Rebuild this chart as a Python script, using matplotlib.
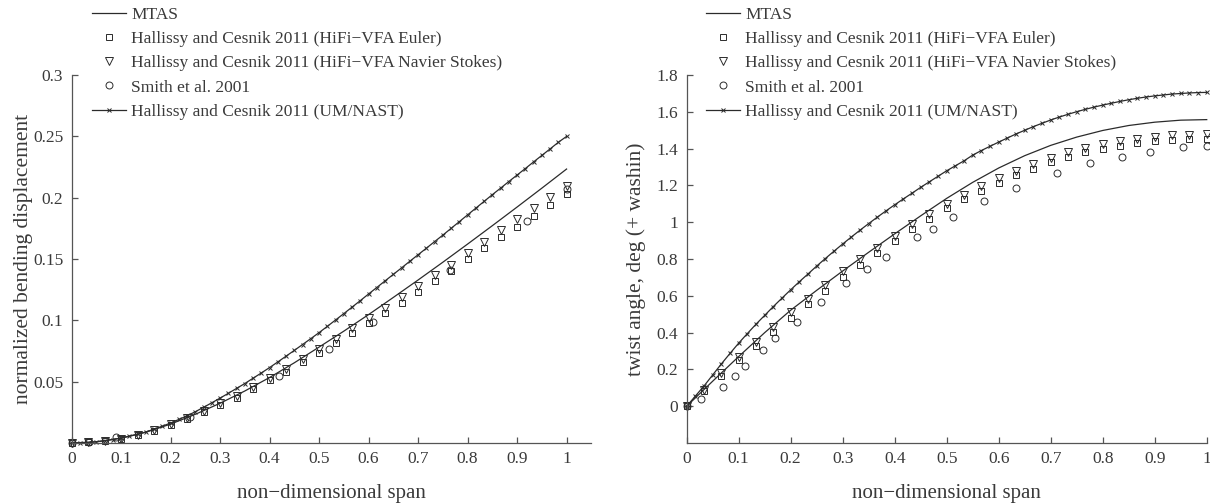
import matplotlib
matplotlib.use("Agg")
import matplotlib.pyplot as plt
from matplotlib.ticker import FuncFormatter

plt.rcParams["font.family"] = ["Liberation Serif", "DejaVu Serif"]
plt.rcParams["axes.unicode_minus"] = False

INK = "#2b2b2b"
TXT = "#3a3a3a"

# ---- bending (left) ----
mtas_x = [0.0, 0.05, 0.1, 0.15, 0.2, 0.25, 0.3, 0.35, 0.4, 0.45, 0.5,
          0.55, 0.6, 0.65, 0.7, 0.75, 0.8, 0.85, 0.9, 0.95, 1.0]
bend_mtas = [0.0, 0.001, 0.004, 0.0088, 0.0154, 0.0234, 0.0324, 0.0424,
             0.0534, 0.0654, 0.0782, 0.0912, 0.1047, 0.1187, 0.1329,
             0.1474, 0.1622, 0.1772, 0.1924, 0.2078, 0.2234]

# HiFi-VFA stations at every 1/30 of span
hifi_x = [k / 30 for k in range(31)]
bend_euler = [0.0, 0.0005, 0.0015, 0.003, 0.0062, 0.0102, 0.015, 0.0198,
              0.025, 0.031, 0.0366, 0.0439, 0.0512, 0.058, 0.066, 0.0737,
              0.0818, 0.09, 0.0982, 0.1057, 0.1144, 0.1233, 0.132, 0.1404,
              0.1497, 0.1587, 0.1676, 0.1763, 0.1853, 0.194, 0.203]
bend_ns = [0.0, 0.0006, 0.0017, 0.0033, 0.0067, 0.011, 0.0158, 0.0207,
           0.0262, 0.0323, 0.0381, 0.0455, 0.053, 0.0602, 0.0685, 0.0765,
           0.085, 0.0935, 0.1021, 0.1098, 0.1188, 0.128, 0.137, 0.1455,
           0.155, 0.1643, 0.1735, 0.1825, 0.1917, 0.2008, 0.2098]

bend_smith_x = [0.0, 0.035, 0.09, 0.24, 0.42, 0.52, 0.61, 0.765, 0.92, 1.0]
bend_smith = [0.0, 0.0006, 0.0046, 0.021, 0.055, 0.077, 0.099, 0.141,
              0.181, 0.207]

# UM/NAST nodes at every 1/60 of span
nast_x = [k / 60 for k in range(61)]
bend_nast = [0.0, 0.0001, 0.0004, 0.001, 0.0018, 0.0028, 0.004, 0.0055,
             0.0071, 0.009, 0.0113, 0.0137, 0.0163, 0.0192, 0.0222, 0.0255,
             0.0291, 0.0328, 0.0366, 0.0405, 0.0445, 0.0485, 0.0528, 0.0571,
             0.0615, 0.0661, 0.0708, 0.0755, 0.0803, 0.0851, 0.09, 0.0951,
             0.1003, 0.1055, 0.1108, 0.1161, 0.1215, 0.1268, 0.1322, 0.1375,
             0.1428, 0.1482, 0.1535, 0.1588, 0.1642, 0.1695, 0.175, 0.1805,
             0.186, 0.1915, 0.197, 0.2025, 0.2078, 0.2132, 0.2185, 0.2238,
             0.2292, 0.2345, 0.2398, 0.2452, 0.25]

# ---- twist (right) ----
twist_mtas = [0.0, 0.136, 0.27, 0.40, 0.522, 0.63, 0.735, 0.837, 0.937,
              1.035, 1.13, 1.217, 1.295, 1.362, 1.418, 1.463, 1.499, 1.526,
              1.544, 1.555, 1.558]
twist_euler = [0.0, 0.081, 0.166, 0.249, 0.325, 0.403, 0.482, 0.556, 0.629,
               0.705, 0.77, 0.835, 0.90, 0.961, 1.02, 1.075, 1.125, 1.17,
               1.215, 1.255, 1.29, 1.325, 1.355, 1.38, 1.40, 1.415, 1.43,
               1.44, 1.448, 1.453, 1.455]
twist_ns = [0.0, 0.09, 0.18, 0.268, 0.35, 0.43, 0.51, 0.585, 0.657, 0.733,
            0.798, 0.862, 0.927, 0.988, 1.046, 1.10, 1.15, 1.196, 1.24,
            1.28, 1.315, 1.35, 1.38, 1.405, 1.425, 1.44, 1.455, 1.465,
            1.472, 1.477, 1.48]
twist_smith_x = [0.0, 0.028, 0.069, 0.093, 0.112, 0.147, 0.170, 0.213,
                 0.258, 0.306, 0.346, 0.384, 0.442, 0.473, 0.512, 0.572,
                 0.633, 0.713, 0.776, 0.838, 0.89, 0.954, 1.0]
twist_smith = [0.0, 0.04, 0.105, 0.163, 0.217, 0.307, 0.369, 0.457, 0.565,
               0.668, 0.746, 0.813, 0.918, 0.964, 1.026, 1.113, 1.187,
               1.268, 1.321, 1.357, 1.38, 1.408, 1.417]
twist_nast = [0.0, 0.055, 0.11, 0.17, 0.23, 0.287, 0.343, 0.395, 0.446,
              0.494, 0.542, 0.588, 0.633, 0.677, 0.719, 0.762, 0.803, 0.843,
              0.882, 0.92, 0.957, 0.993, 1.028, 1.062, 1.095, 1.127, 1.158,
              1.19, 1.22, 1.25, 1.28, 1.307, 1.334, 1.365, 1.39, 1.413,
              1.436, 1.458, 1.48, 1.50, 1.52, 1.538, 1.556, 1.572, 1.587,
              1.601, 1.614, 1.626, 1.637, 1.647, 1.657, 1.666, 1.674, 1.681,
              1.687, 1.692, 1.697, 1.700, 1.703, 1.705, 1.706]

labels = ["MTAS",
          "Hallissy and Cesnik 2011 (HiFi\u2212VFA Euler)",
          "Hallissy and Cesnik 2011 (HiFi\u2212VFA Navier Stokes)",
          "Smith et al. 2001",
          "Hallissy and Cesnik 2011 (UM/NAST)"]

x_ticks = [0, 0.1, 0.2, 0.3, 0.4, 0.5, 0.6, 0.7, 0.8, 0.9, 1.0]
bend_ticks = [0.05, 0.1, 0.15, 0.2, 0.25, 0.3]
twist_ticks = [0, 0.2, 0.4, 0.6, 0.8, 1.0, 1.2, 1.4, 1.6, 1.8]

fmt = FuncFormatter(lambda v, _: f"{v:g}")


def draw_panel(ax, y_mtas, y_euler, y_ns, sx, sy, y_nast):
    open_kw = dict(linestyle="none", markerfacecolor="none",
                   markeredgecolor=INK, markeredgewidth=0.7, clip_on=False)
    ax.plot(mtas_x, y_mtas, color=INK, linewidth=0.9, clip_on=False)
    ax.plot(hifi_x, y_euler, marker="s", markersize=4.6, **open_kw)
    ax.plot(hifi_x, y_ns, marker="v", markersize=6.0, **open_kw)
    ax.plot(sx, sy, marker="o", markersize=5.0, **open_kw)
    ax.plot(nast_x, y_nast, color=INK, linewidth=0.9, marker="x",
            markersize=3.2, markeredgewidth=0.7, clip_on=False)

    for side in ("top", "right"):
        ax.spines[side].set_visible(False)
    for side in ("left", "bottom"):
        ax.spines[side].set_color("#555555")
        ax.spines[side].set_linewidth(0.9)
    ax.tick_params(direction="in", length=4, width=0.9, color="#555555",
                   labelsize=12.5, labelcolor=TXT, pad=6)
    ax.set_xticks(x_ticks)
    ax.xaxis.set_major_formatter(fmt)
    ax.yaxis.set_major_formatter(fmt)
    ax.set_xlabel("non\u2212dimensional span", fontsize=15, color=TXT,
                  labelpad=12)


fig = plt.figure(figsize=(12.1, 5.04), dpi=100)

ax1 = fig.add_axes([0.0591, 0.121, 0.4296, 0.730])
draw_panel(ax1, bend_mtas, bend_euler, bend_ns, bend_smith_x, bend_smith,
           bend_nast)
ax1.set_xlim(0, 1.05)
ax1.set_ylim(0, 0.3)
ax1.set_yticks(bend_ticks)
ax1.set_ylabel("normalized bending displacement", fontsize=15.5, color=TXT)
ax1.yaxis.set_label_coords(-0.074, 0.5)

ax2 = fig.add_axes([0.5675, 0.121, 0.4298, 0.730])
draw_panel(ax2, twist_mtas, twist_euler, twist_ns, twist_smith_x,
           twist_smith, twist_nast)
ax2.set_xlim(0, 1.0)
ax2.set_ylim(-0.2, 1.8)
ax2.set_yticks(twist_ticks)
ax2.set_ylabel("twist angle, deg (+ washin)", fontsize=15.5, color=TXT)
ax2.yaxis.set_label_coords(-0.078, 0.5)

for ax, x0 in ((ax1, 92 / 1210), (ax2, 706 / 1210)):
    leg = ax.legend(ax.get_lines(), labels, loc="upper left",
                    bbox_to_anchor=(x0, 1 - 7 / 504),
                    bbox_transform=fig.transFigure, frameon=False,
                    fontsize=12.5, handlelength=1.95, handletextpad=0.3,
                    labelspacing=0.46, borderpad=0, borderaxespad=0,
                    numpoints=1)
    for t in leg.get_texts():
        t.set_color(TXT)

fig.savefig("out.png", dpi=100)
